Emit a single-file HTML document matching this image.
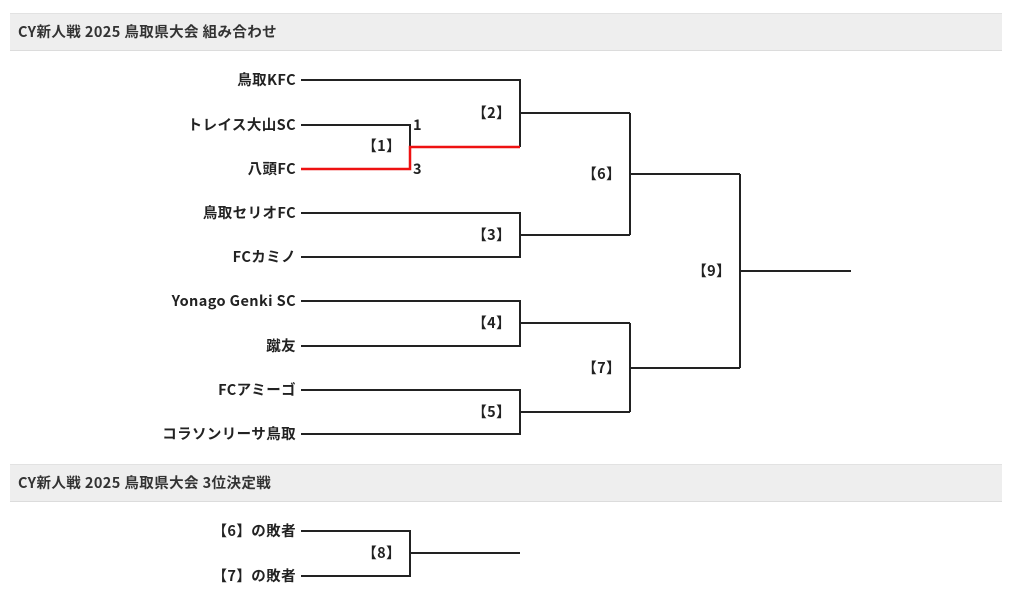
<!DOCTYPE html>
<html><head><meta charset="utf-8"><style>
body{margin:0;background:#fff;width:1024px;height:598px;overflow:hidden}
svg text{font-family:"Noto Sans CJK JP","Liberation Sans",sans-serif;font-weight:bold;fill:#222;font-size:14.5px;letter-spacing:0.4px}
</style></head><body>
<svg width="1024" height="598" viewBox="0 0 1024 598" xmlns="http://www.w3.org/2000/svg">
<rect x="10" y="13" width="992" height="38" fill="#eeeeee"/>
<line x1="10" y1="13.5" x2="1002" y2="13.5" stroke="#e2e2e2"/>
<line x1="10" y1="50.5" x2="1002" y2="50.5" stroke="#dcdcdc"/>
<text x="18" y="37" style="fill:#333">CY新人戦 2025 鳥取県大会 組み合わせ</text>
<rect x="10" y="464" width="992" height="38" fill="#eeeeee"/>
<line x1="10" y1="464.5" x2="1002" y2="464.5" stroke="#e2e2e2"/>
<line x1="10" y1="501.5" x2="1002" y2="501.5" stroke="#dcdcdc"/>
<text x="18" y="488" style="fill:#333">CY新人戦 2025 鳥取県大会 3位決定戦</text>
<g text-anchor="end">
<text x="296" y="85">鳥取KFC</text>
<text x="296" y="130">トレイス大山SC</text>
<text x="296" y="174">八頭FC</text>
<text x="296" y="218">鳥取セリオFC</text>
<text x="296" y="262">FCカミノ</text>
<text x="296" y="306">Yonago Genki SC</text>
<text x="296" y="351">蹴友</text>
<text x="296" y="395">FCアミーゴ</text>
<text x="296" y="439">コラソンリーサ鳥取</text>
<text x="296" y="536">【6】の敗者</text>
<text x="296" y="581">【7】の敗者</text>
<text x="401" y="151">【1】</text>
<text x="511" y="118">【2】</text>
<text x="511" y="240">【3】</text>
<text x="511" y="328">【4】</text>
<text x="511" y="417">【5】</text>
<text x="621" y="179">【6】</text>
<text x="621" y="373">【7】</text>
<text x="731" y="276">【9】</text>
<text x="401" y="558">【8】</text>
</g>
<text x="413" y="130">1</text>
<text x="413" y="174">3</text>
<g stroke="#222" stroke-width="2" fill="none">
<polyline points="301,80 520,80 520,147"/>
<polyline points="301,125 410,125 410,147"/>
<line x1="520" y1="113" x2="630" y2="113"/>
<polyline points="301,213 520,213 520,257 301,257"/>
<line x1="520" y1="235" x2="630" y2="235"/>
<line x1="630" y1="113" x2="630" y2="235"/>
<line x1="630" y1="174" x2="740" y2="174"/>
<polyline points="301,301 520,301 520,346 301,346"/>
<line x1="520" y1="323" x2="630" y2="323"/>
<polyline points="301,390 520,390 520,434 301,434"/>
<line x1="520" y1="412" x2="630" y2="412"/>
<line x1="630" y1="323" x2="630" y2="412"/>
<line x1="630" y1="368" x2="740" y2="368"/>
<line x1="740" y1="174" x2="740" y2="368"/>
<line x1="740" y1="271" x2="851" y2="271"/>
<polyline points="301,531 410,531 410,576 301,576"/>
<line x1="410" y1="553" x2="520" y2="553"/>
</g>
<polyline points="301,169 410,169 410,147 520,147" stroke="#ee1111" stroke-width="2.5" fill="none"/>
</svg>
</body></html>
